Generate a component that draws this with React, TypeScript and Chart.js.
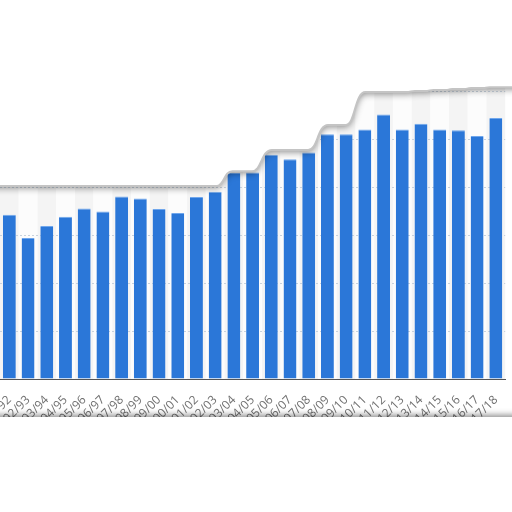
import { useEffect, useRef } from "react";
import { Chart, registerables } from "chart.js";

Chart.register(...registerables);

// Seasons (categories)
const seasons = [
  "91/92", "92/93", "93/94", "94/95", "95/96", "96/97", "97/98", "98/99", "99/00",
  "00/01", "01/02", "02/03", "03/04", "04/05", "05/06", "06/07", "07/08", "08/09",
  "09/10", "10/11", "11/12", "12/13", "13/14", "14/15", "15/16", "16/17", "17/18",
];

// Bar values (estimated)
const values = [
  342, 294, 319, 338, 355, 349, 380, 376, 354,
  346, 379, 390, 429, 430, 467, 458, 472, 510,
  510, 520, 551, 520, 532, 520, 518, 506, 544,
];

// Edge of the torn-paper overlay at the top, per category (in value units)
const envelope = [
  402, 402, 402, 402, 402, 402, 402, 402, 402,
  402, 402, 402, 433, 433, 477, 477, 477, 529,
  529, 598, 598, 598, 600, 602, 604, 606, 608,
];

const yMax = 700;
const yStep = 100;

const tornPlugin = {
  id: "torn",
  beforeDraw(chart: any) {
    const { ctx, chartArea } = chart;
    const xs = chart.scales.x;
    const half = (xs.getPixelForValue(1) - xs.getPixelForValue(0)) / 2;
    ctx.save();
    for (let i = 0; i < seasons.length; i++) {
      const c = xs.getPixelForValue(i);
      ctx.fillStyle = i % 2 === 0 ? "#f4f4f4" : "#fcfcfc";
      ctx.fillRect(c - half, chartArea.top, half * 2, chartArea.bottom - chartArea.top);
    }
    ctx.restore();
  },
  afterDatasetsDraw(chart: any) {
    const { ctx } = chart;
    const xs = chart.scales.x;
    const ys = chart.scales.y;
    const half = (xs.getPixelForValue(1) - xs.getPixelForValue(0)) / 2;
    const n = envelope.length;
    const edge = (start: boolean) => {
      const y0 = ys.getPixelForValue(envelope[0]);
      if (start) ctx.moveTo(0, y0);
      else ctx.lineTo(0, y0);
      for (let i = 0; i < n; i++) {
        const y = ys.getPixelForValue(envelope[i]);
        const c = xs.getPixelForValue(i);
        if (i < n - 1) {
          const yn = ys.getPixelForValue(envelope[i + 1]);
          const b = c + half;
          if (Math.abs(yn - y) > 0.5) {
            const w = Math.min(10, Math.abs(yn - y) / 3 + 3);
            ctx.lineTo(b - w, y);
            ctx.bezierCurveTo(b, y, b - 1, yn, b + w, yn);
          } else {
            ctx.lineTo(b, y);
          }
        } else {
          ctx.lineTo(chart.width, y);
        }
      }
    };
    ctx.save();
    ctx.beginPath();
    ctx.moveTo(0, 0);
    edge(false);
    ctx.lineTo(chart.width, 0);
    ctx.closePath();
    ctx.shadowColor = "rgba(0,0,0,0.45)";
    ctx.shadowBlur = 7;
    ctx.shadowOffsetY = 2;
    ctx.fillStyle = "#ffffff";
    ctx.fill();
    ctx.shadowColor = "transparent";
    ctx.beginPath();
    edge(true);
    ctx.strokeStyle = "#c4c4c4";
    ctx.lineWidth = 2;
    ctx.stroke();
    ctx.restore();
  },
  afterDraw(chart: any) {
    const { ctx, chartArea } = chart;
    const top = chartArea.bottom + 38;
    ctx.save();
    ctx.shadowColor = "rgba(0,0,0,0.45)";
    ctx.shadowBlur = 6;
    ctx.shadowOffsetY = -2;
    ctx.fillStyle = "#ffffff";
    ctx.fillRect(-10, top, chart.width + 20, chart.height - top + 20);
    ctx.restore();
  },
};

export default function App() {
  const ref = useRef<HTMLCanvasElement>(null);
  useEffect(() => {
    const chart = new Chart(ref.current!, {
      type: "bar",
      data: {
        labels: seasons,
        datasets: [
          {
            data: values,
            backgroundColor: "#2b77d8",
            borderColor: "#6fa6ec",
            borderWidth: { top: 1, left: 0, right: 0, bottom: 0 },
            borderSkipped: "bottom",
            barPercentage: 0.69,
            categoryPercentage: 1.0,
          },
        ],
      },
      options: {
        responsive: false,
        animation: false,
        devicePixelRatio: 1,
        layout: { padding: { left: 60, right: 0, top: 43, bottom: 0 } },
        plugins: { legend: { display: false }, tooltip: { enabled: false } },
        scales: {
          x: {
            grid: { display: false, drawTicks: false },
            border: { display: true, color: "#555555", width: 1 },
            ticks: {
              autoSkip: false,
              maxRotation: 45,
              minRotation: 45,
              padding: 14,
              color: "#707070",
              font: { family: "'Open Sans', sans-serif", size: 12 },
            },
            afterFit: (scale: any) => {
              scale.height = 133;
            },
          },
          y: {
            min: 0,
            max: yMax,
            ticks: { display: false, stepSize: yStep },
            grid: { color: "#c8d2dd", lineWidth: 1, drawTicks: false },
            border: { display: false, dash: [2, 2] },
          },
        },
      },
      plugins: [tornPlugin],
    } as any);
    return () => chart.destroy();
  }, []);
  return (
    <div
      style={{
        position: "fixed",
        left: 0,
        top: 0,
        width: 512,
        height: 512,
        overflow: "hidden",
        background: "#ffffff",
      }}
    >
      <canvas
        ref={ref}
        width={580}
        height={512}
        style={{ position: "absolute", left: -60, top: 0, width: 580, height: 512 }}
      />
    </div>
  );
}
